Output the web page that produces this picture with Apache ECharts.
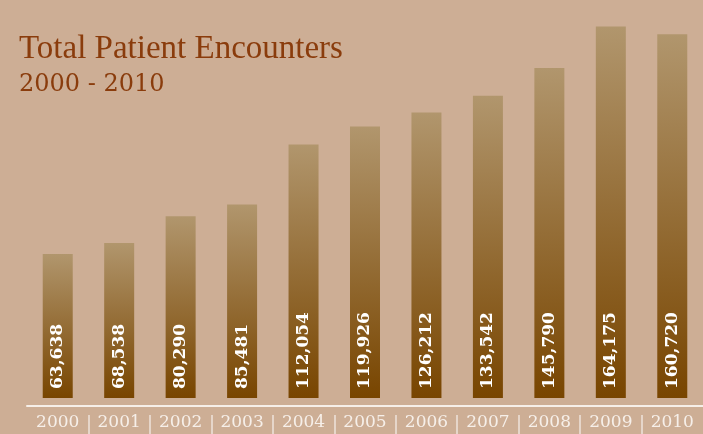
<!DOCTYPE html>
<html>
<head>
<meta charset="utf-8">
<title>Total Patient Encounters</title>
<script src="https://cdn.jsdelivr.net/npm/echarts@6/dist/echarts.min.js"></script>
<style>
  html, body { margin: 0; padding: 0; background: #CDAE95; }
  #chart { width: 703px; height: 434px; }
</style>
</head>
<body>
<div id="chart"></div>
<script>
// data
const years = ["2000", "2001", "2002", "2003", "2004", "2005", "2006", "2007", "2008", "2009", "2010"];
const encounters = [63638, 68538, 80290, 85481, 112054, 119926, 126212, 133542, 145790, 164175, 160720];

const gridLeft = 27;
const gridRight = 0;
const band = (703 - gridLeft - gridRight) / years.length;

const chart = echarts.init(document.getElementById("chart"));
chart.setOption({
  backgroundColor: "#CDAE95",
  animation: false,
  title: [
    {
      text: "Total Patient Encounters",
      left: 19,
      top: 33,
      padding: 0,
      textStyle: { fontFamily: "Liberation Serif", fontSize: 33, fontWeight: "normal", color: "#8A3C0C" }
    },
    {
      text: "2000 - 2010",
      left: 19,
      top: 73,
      padding: 0,
      textStyle: { fontFamily: "DejaVu Serif", fontSize: 24, fontWeight: "normal", color: "#8A3C0C" }
    }
  ],
  grid: [
    { left: gridLeft, right: gridRight, top: 2, bottom: 36 },
    // thin strip only for the | separators between year labels (inner boundaries only)
    { left: gridLeft + band, right: gridRight + band, top: 400, height: 15 }
  ],
  xAxis: [
    {
      type: "category",
      data: years,
      offset: 8, // line sits a bit below the bars
      axisLine: { onZero: false, lineStyle: { color: "#F6EFE9", width: 2 } },
      axisTick: { show: false },
      axisLabel: {
        margin: 8,
        color: "#F6EFE9",
        fontFamily: "DejaVu Serif",
        fontSize: 17
      }
    },
    {
      gridIndex: 1,
      type: "value",
      min: 1,
      max: years.length - 1,
      interval: 1,
      position: "bottom",
      axisLine: { show: false, onZero: false },
      axisLabel: { show: false },
      splitLine: { show: false },
      axisTick: {
        show: true,
        length: 25,
        lineStyle: { color: "#EEE4DC", width: 1.5 }
      }
    }
  ],
  yAxis: [
    {
      type: "value",
      min: 0,
      max: 175000,
      show: false,
      splitLine: { show: false }
    },
    { gridIndex: 1, type: "value", show: false }
  ],
  series: [
    {
      type: "bar",
      data: encounters,
      barWidth: 30,
      itemStyle: {
        color: {
          type: "linear", x: 0, y: 0, x2: 0, y2: 1,
          colorStops: [
            { offset: 0, color: "#B1966D" },
            { offset: 1, color: "#784500" }
          ]
        }
      },
      label: {
        show: true,
        position: "insideBottom",
        rotate: 90,
        align: "left",
        verticalAlign: "middle",
        distance: 9,
        color: "#FFFFFF",
        fontFamily: "DejaVu Serif",
        fontWeight: "bold",
        fontSize: 17,
        formatter: function (p) { return p.value.toLocaleString("en-US"); }
      }
    }
  ]
});
</script>
</body>
</html>
